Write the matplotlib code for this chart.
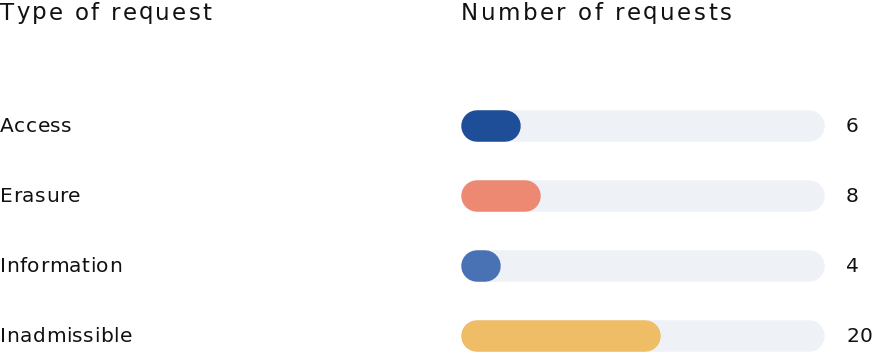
import matplotlib
matplotlib.use("Agg")
import matplotlib.pyplot as plt
from matplotlib.font_manager import FontProperties, findfont
from matplotlib.ft2font import FT2Font

# Data
categories = ["Access", "Erasure", "Information", "Inadmissible"]
counts = [6, 8, 4, 20]
colors = ["#1E4E98", "#ED8972", "#4872B4", "#EFBD65"]
scale_max = 36.4
header_left = "Type of request"
header_right = "Number of requests"

DPI = 100
W, H = 875, 353
fig = plt.figure(figsize=(W / DPI, H / DPI), dpi=DPI)
fig.patch.set_facecolor("white")

# Bar area geometry (pixels)
x0_px, x1_px = 461, 825
row0_px, row_step_px = 126, 70
bar_h_px = 31.5
text_color = "#111111"

ax = fig.add_axes([x0_px / W, 0, (x1_px - x0_px) / W, 1])
ax.set_xlim(0, scale_max)
ax.set_ylim((H - row0_px) / row_step_px, -row0_px / row_step_px)
ax.axis("off")

lw_pt = bar_h_px * 72 / DPI
r_data = (bar_h_px / 2) / ((x1_px - x0_px) / scale_max)

for i, (cat, val, col) in enumerate(zip(categories, counts, colors)):
    # background track
    ax.plot([r_data, scale_max - r_data], [i, i], color="#EEF1F6",
            lw=lw_pt, solid_capstyle="round", zorder=1)
    # value bar
    ax.plot([r_data, max(val - r_data, r_data)], [i, i], color=col,
            lw=lw_pt, solid_capstyle="round", zorder=2)


def spaced_text(x_px, y_px, s, size_pt, spacing_px):
    """Draw a string with extra tracking between characters (pixel coords from top-left)."""
    prop = FontProperties(family="DejaVu Sans", size=size_pt)
    font = FT2Font(findfont(prop))
    font.set_size(size_pt, DPI)
    x = x_px
    for ch in s:
        fig.text(x / W, 1 - y_px / H, ch, fontproperties=prop,
                 color=text_color, va="baseline", ha="left")
        glyph = font.load_char(ord(ch))
        x += glyph.linearHoriAdvance / 65536 + spacing_px


# Category labels and counts
for i, (cat, val) in enumerate(zip(categories, counts)):
    y_base = row0_px + row_step_px * i + 6.5
    spaced_text(0, y_base, cat, 14.5, 0.5)
    spaced_text(846, y_base, str(val), 14.5, 0.5)

# Column headers
spaced_text(0, 19.5, header_left, 16.5, 2.25)
spaced_text(461, 19.5, header_right, 16.5, 2.5)

fig.savefig("out.png", dpi=DPI, facecolor="white")
